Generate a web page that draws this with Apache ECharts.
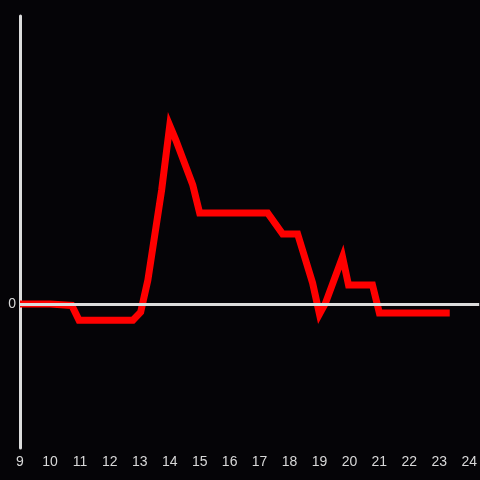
<!DOCTYPE html>
<html>
<head>
<meta charset="utf-8">
<script src="https://cdn.jsdelivr.net/npm/echarts@6/dist/echarts.min.js"></script>
<style>
  html, body { margin: 0; padding: 0; background: #050407; }
  #chart { width: 480px; height: 480px; }
</style>
</head>
<body>
<div id="chart"></div>
<script>
// hour of day
var hours = [9, 10, 10.73, 10.97, 12.77, 13.03, 13.27, 13.73, 14.0, 14.2, 14.77, 15.0,
  17.27, 17.77, 18.27, 18.77, 19.0, 19.2, 19.77, 19.97, 20.77, 21.0, 23.35];
var values = [0, 0, -0.5, -5.6, -5.6, -2.8, 8.3, 39.6, 62.0, 57.0, 41.3, 31.6,
  31.6, 24.3, 24.3, 7.3, -3.5, 0.3, 16.3, 6.6, 6.6, -3.1, -3.1];
var xTicks = [9, 24];

var chart = echarts.init(document.getElementById("chart"));
var option = {
  backgroundColor: "#050407",
  animation: false,
  grid: { left: 20, right: 0, top: 16, bottom: 32 },
  xAxis: {
    type: "value",
    min: xTicks[0],
    max: xTicks[0] + 460 / 30,
    interval: 1,
    splitLine: { show: false },
    axisLine: { show: false },
    axisTick: { show: false },
    axisLabel: {
      color: "#d8d8d8",
      fontSize: 14,
      margin: 7,
      showMaxLabel: false,
      formatter: function (v) { return v <= xTicks[1] ? String(v) : ""; }
    }
  },
  yAxis: {
    type: "value",
    min: -50,
    max: 100,
    interval: 50,
    splitLine: { show: false },
    axisTick: { show: false },
    axisLine: { show: true, lineStyle: { color: "#dcdcdc", width: 3 } },
    axisLabel: {
      color: "#d8d8d8",
      fontSize: 14,
      margin: 4,
      formatter: function (v) { return v === 0 ? "0" : ""; }
    }
  },
  series: [
    {
      type: "line",
      data: hours.map(function (h, i) { return [h, values[i]]; }),
      showSymbol: false,
      lineStyle: { color: "#ff0000", width: 7, cap: "butt", join: "miter" },
      markLine: {
        silent: true,
        symbol: "none",
        label: { show: false },
        lineStyle: { color: "#dcdcdc", width: 3, type: "solid" },
        data: [{ yAxis: 0 }]
      },
      z: 3
    }
  ]
};
chart.setOption(option);
</script>
</body>
</html>
